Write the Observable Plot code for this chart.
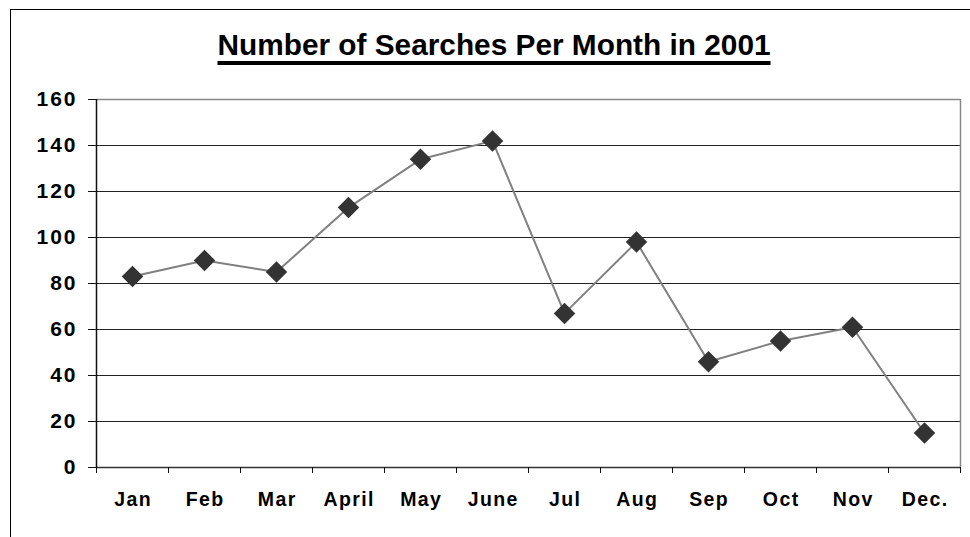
<!DOCTYPE html>
<html>
<head>
<meta charset="utf-8">
<script src="https://cdn.jsdelivr.net/npm/d3@7"></script>
<script src="https://cdn.jsdelivr.net/npm/@observablehq/plot@0.6"></script>
<style>
  html, body { margin: 0; padding: 0; background: #fff; }
  #wrap { position: relative; width: 970px; height: 537px; overflow: hidden; font-family: "Liberation Sans", Arial, sans-serif; }
  #frame { position: absolute; left: 10px; top: 9px; width: 980px; height: 560px; border-top: 1px solid #000; border-left: 1px solid #000; box-sizing: border-box; pointer-events: none; }
  #title { position: absolute; left: 0; width: 988px; top: 28px; text-align: center; font-weight: bold; font-size: 29.8px; letter-spacing: 0; line-height: 34px; color: #000; text-decoration: underline; text-decoration-thickness: 4px; text-underline-offset: 6px; white-space: nowrap; }
  #chart { position: absolute; left: 0; top: 0; }
  #chart g[aria-label="y-axis tick label"] text { letter-spacing: 2px; }
  #chart g[aria-label="x-axis tick label"] text { letter-spacing: 1.4px; }
</style>
</head>
<body>
<div id="wrap">
  <div id="chart"></div>
  <div id="frame"></div>
  <div id="title">Number of Searches Per Month in 2001</div>
</div>
<script>
const months = ["Jan", "Feb", "Mar", "April", "May", "June", "Jul", "Aug", "Sep", "Oct", "Nov", "Dec."];
const searches = [83, 90, 85, 113, 134, 142, 67, 98, 46, 55, 61, 15];
const yTicks = [0, 20, 40, 60, 80, 100, 120, 140, 160];

const data = months.map((m, i) => ({month: m, pos: i + 0.5, value: searches[i]}));
const boundaries = d3.range(0, months.length + 1);
const centers = months.map((m, i) => i + 0.5);

const chart = Plot.plot({
  width: 970,
  height: 537,
  marginLeft: 96,
  marginRight: 10,
  marginTop: 99,
  marginBottom: 70,
  style: {fontFamily: "'Liberation Sans', Arial, sans-serif", background: "transparent", color: "#000"},
  x: {domain: [0, months.length]},
  y: {domain: [0, 160]},
  marks: [
    Plot.gridY(yTicks, {stroke: "#222", strokeOpacity: 1, strokeWidth: 1}),
    Plot.ruleY([160], {stroke: "#888", strokeWidth: 1.5}),
    Plot.ruleX([months.length], {stroke: "#888", strokeWidth: 1.5}),
    Plot.ruleY([0], {stroke: "#333", strokeWidth: 1.5}),
    Plot.ruleX([0], {stroke: "#111", strokeWidth: 1.5}),
    Plot.axisY({ticks: yTicks, tickSize: 8, tickPadding: 11, fontSize: 21, fontWeight: "bold", label: null, stroke: "#111"}),
    Plot.axisX({ticks: boundaries, tickSize: 6, tickFormat: () => "", label: null, stroke: "#111"}),
    Plot.axisX({ticks: centers, tickSize: 0, tickPadding: 25, dx: 0.7, tickFormat: d => months[Math.floor(d)], fontSize: 19.5, fontWeight: "bold", label: null}),
    Plot.line(data, {x: "pos", y: "value", stroke: "#808080", strokeWidth: 2}),
    Plot.dot(data, {x: "pos", y: "value", symbol: "diamond2", r: 9.7, fill: "#333", stroke: "none"})
  ]
});
document.getElementById("chart").appendChild(chart);
</script>
</body>
</html>
